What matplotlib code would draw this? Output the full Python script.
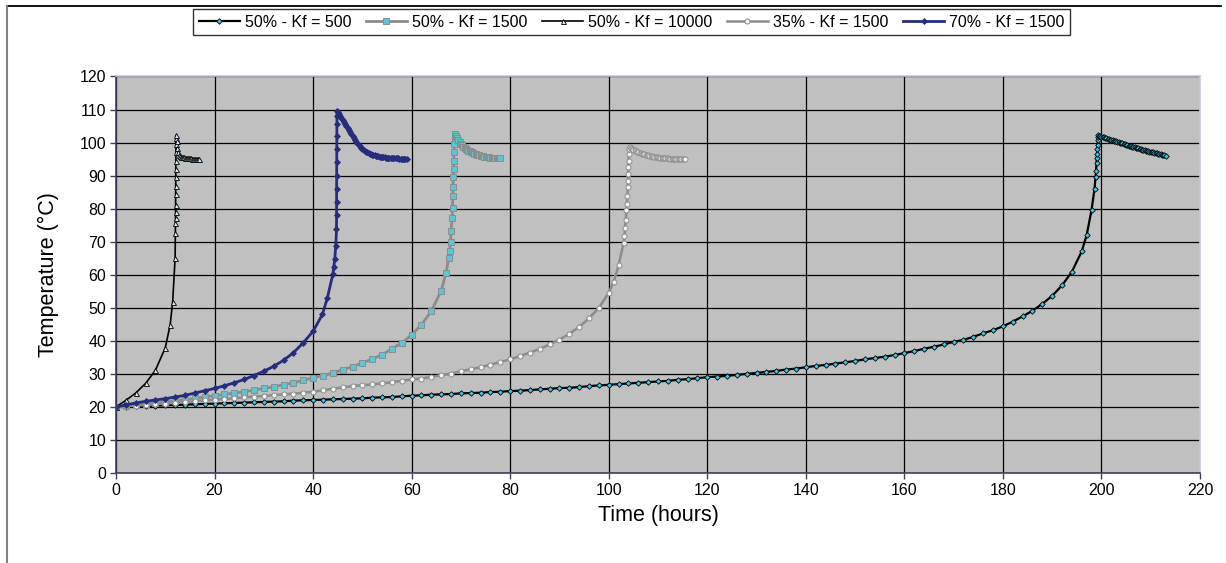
import numpy as np
import matplotlib
matplotlib.use('Agg')
from matplotlib import pyplot as plt
from matplotlib.lines import Line2D

plt.rcParams['font.family'] = ['Liberation Sans', 'DejaVu Sans']

# 50% - Kf = 500 : 2 h steps up to 194 h, then the ignition spike, then the cool-down at 0.25 h steps
t_500 = np.r_[np.arange(0, 196, 2),
              [196, 197, 198, 198.6, 198.8, 198.9, 199.0, 199.05, 199.1, 199.15, 199.2, 199.25, 199.3, 199.4],
              np.arange(199.5, 213.01, 0.25)]
T_500 = [20.0, 20.1, 20.2, 20.3, 20.4, 20.5, 20.6, 20.7, 20.8, 20.9,
         21.0, 21.1, 21.2, 21.3, 21.4, 21.5, 21.6, 21.7, 21.9, 22.0,
         22.1, 22.2, 22.3, 22.4, 22.5, 22.6, 22.8, 22.9, 23.0, 23.2,
         23.4, 23.5, 23.7, 23.8, 23.9, 24.1, 24.2, 24.3, 24.5, 24.6,
         24.8, 24.9, 25.1, 25.3, 25.5, 25.7, 25.8, 26.0, 26.3, 26.5,
         26.7, 26.9, 27.1, 27.3, 27.5, 27.7, 27.9, 28.2, 28.4, 28.7,
         29.0, 29.2, 29.4, 29.7, 30.0, 30.3, 30.6, 30.9, 31.3, 31.6,
         32.0, 32.4, 32.7, 33.1, 33.5, 33.9, 34.4, 34.8, 35.2, 35.7,
         36.3, 36.9, 37.6, 38.2, 38.9, 39.7, 40.3, 41.2, 42.3, 43.2,
         44.4, 45.8, 47.4, 49.1, 51.2, 53.6, 56.8, 60.9,
         67.1, 72.0, 79.7, 86.1, 89.5, 91.4, 93.8, 95.2, 96.6, 98.0, 99.4, 100.8, 101.8, 102.2,
         102.1, 102.0,
         101.8, 101.7, 101.6, 101.4, 101.3, 101.2, 101.1, 100.9, 100.8, 100.7, 100.6, 100.5,
         100.4, 100.3, 100.1, 100.0, 99.9, 99.8, 99.6, 99.5, 99.4, 99.3, 99.1, 99.0,
         98.9, 98.8, 98.7, 98.6, 98.5, 98.4, 98.3, 98.2, 98.0, 97.9, 97.8, 97.7,
         97.6, 97.5, 97.4, 97.3, 97.2, 97.1, 97.0, 96.9, 96.8, 96.7, 96.6, 96.5,
         96.4, 96.3, 96.2, 96.1, 96.0]

# 50% - Kf = 1500
t_1500 = np.r_[np.arange(0, 68, 2),
               [67.0, 67.5, 67.7, 67.9, 68.0, 68.2, 68.3, 68.35, 68.4, 68.45, 68.5, 68.55, 68.6, 68.65, 68.7, 68.8],
               np.arange(69.0, 78.01, 0.25)]
T_1500 = [20.0, 20.3, 20.6, 20.9, 21.2, 21.5, 21.9, 22.2, 22.6, 23.0,
          23.4, 23.8, 24.2, 24.6, 25.1, 25.6, 26.1, 26.7, 27.3, 28.0,
          28.8, 29.5, 30.3, 31.2, 32.2, 33.3, 34.5, 35.8, 37.6, 39.4,
          41.8, 44.9, 49.0, 55.2,
          60.6, 65.0, 67.3, 70.0, 73.1, 77.3, 80.3, 83.7, 86.5, 89.6, 92.0, 94.5, 97.0, 99.5, 101.5, 102.5,
          102.0, 101.4, 100.7, 100.1, 99.6, 99.2, 98.8, 98.5, 98.2, 97.9, 97.6, 97.4,
          97.2, 97.0, 96.8, 96.6, 96.5, 96.3, 96.2, 96.1, 96.0, 95.9, 95.8, 95.7,
          95.6, 95.6, 95.5, 95.5, 95.4, 95.4, 95.4, 95.3, 95.3, 95.3, 95.2, 95.2,
          95.2]

# 50% - Kf = 10000
t_10000 = [0, 2, 4, 6, 8, 10, 11, 11.5, 12.0, 12.05, 12.07, 12.08, 12.09, 12.1, 12.11, 12.12, 12.13,
           12.14, 12.15, 12.16, 12.17, 12.18, 12.2,
           12.3, 12.45, 12.6, 12.8, 13.0, 13.2, 13.4, 13.6, 13.8, 14.0, 14.2, 14.4, 14.6, 14.8, 15.0,
           15.2, 15.4, 15.6, 15.8, 16.0, 16.2, 16.4, 16.6, 16.9]
T_10000 = [20.0, 22.0, 24.2, 27.1, 31.1, 37.9, 44.9, 51.8, 65.1, 72.7, 75.7, 77.2, 79.0, 81.2, 84.3, 87.0, 89.5,
           92.0, 94.5, 97.0, 99.5, 101.5, 102.3,
           100.5, 98.5, 97.2, 96.3, 95.9, 95.7, 95.6, 95.5, 95.5, 95.4, 95.4, 95.3, 95.3, 95.2, 95.2,
           95.2, 95.1, 95.1, 95.1, 95.0, 95.0, 95.0, 94.9, 94.9]

# 35% - Kf = 1500
t_35 = np.r_[np.arange(0, 102, 2),
             [101, 102, 103, 103.2, 103.3, 103.45, 103.6, 103.7, 103.8, 103.85, 103.9, 103.95, 104.0, 104.05,
              104.1, 104.15, 104.25],
             np.arange(104.5, 115.51, 0.25)]
T_35 = [20.0, 20.2, 20.4, 20.6, 20.8, 21.0, 21.2, 21.5, 21.7, 22.0,
        22.2, 22.4, 22.6, 22.9, 23.1, 23.3, 23.6, 23.8, 24.0, 24.3,
        24.6, 25.0, 25.5, 25.9, 26.3, 26.6, 26.8, 27.1, 27.5, 27.9,
        28.3, 28.6, 29.1, 29.6, 30.1, 30.8, 31.4, 32.0, 32.8, 33.6,
        34.4, 35.4, 36.4, 37.6, 38.9, 40.4, 42.1, 44.2, 46.8, 50.0,
        54.5,
        57.9, 62.8, 69.6, 71.6, 74.1, 76.5, 79.7, 81.5, 83.9, 86.5, 88.5, 90.5, 92.5, 94.5,
        96.5, 98.0, 98.8,
        98.5, 98.2,
        97.9, 97.7, 97.5, 97.3, 97.1, 96.9, 96.8, 96.6, 96.5, 96.4, 96.3, 96.2,
        96.1, 96.0, 95.9, 95.8, 95.7, 95.7, 95.6, 95.5, 95.5, 95.4, 95.4, 95.3,
        95.3, 95.3, 95.2, 95.2, 95.2, 95.1, 95.1, 95.1, 95.0, 95.0, 95.0, 95.0,
        95.0, 94.9, 94.9, 94.9, 94.9, 94.9, 94.9]

# 70% - Kf = 1500
t_70 = np.r_[np.arange(0, 42, 2),
             [41.9, 42.9, 44.0, 44.2, 44.4, 44.6, 44.75, 44.76, 44.77, 44.78, 44.79, 44.8, 44.81, 44.82,
              44.83, 44.84, 44.85],
             np.arange(45.0, 59.01, 0.25)]
T_70 = [20.0, 20.6, 21.2, 21.7, 22.1, 22.5, 23.0, 23.5, 24.2, 24.9,
        25.6, 26.4, 27.3, 28.3, 29.5, 30.8, 32.3, 34.1, 36.4, 39.4,
        42.9,
        48.0, 53.0, 60.1, 62.4, 64.9, 68.7, 73.7, 78.0, 82.0, 86.0, 90.0, 94.0, 98.0, 102.0,
        105.5, 108.0, 109.6,
        109.2, 108.6, 108.0, 107.4, 106.8, 106.2, 105.6, 105.0, 104.4, 103.8, 103.2, 102.6,
        102.0, 101.4, 100.8, 100.3, 99.8, 99.3, 98.9, 98.5, 98.1, 97.8, 97.5, 97.2,
        97.0, 96.8, 96.6, 96.5, 96.3, 96.2, 96.1, 96.0, 95.9, 95.8, 95.7, 95.7,
        95.6, 95.5, 95.5, 95.4, 95.4, 95.4, 95.3, 95.3, 95.3, 95.2, 95.2, 95.2,
        95.2, 95.2, 95.1, 95.1, 95.1, 95.1, 95.1, 95.1, 95.1]

labels = ['50% - Kf = 500', '50% - Kf = 1500', '50% - Kf = 10000', '35% - Kf = 1500', '70% - Kf = 1500']

fig = plt.figure(figsize=(12.26, 5.63), dpi=100)
ax = fig.add_axes([116 / 1226, 90 / 563, 1084 / 1226, 396.5 / 563])
ax.set_facecolor('#C0C0C0')

ax.plot(t_500, T_500, color='black', lw=1.6, marker='D', ms=2.8, mfc='#3CC8E8', mec='black', mew=0.6,
        label=labels[0])
ax.plot(t_1500, T_1500, color='#8C8C8C', lw=2, marker='s', ms=3.8, mfc='#5CC6D6', mec='#8C8C8C', mew=0.7,
        label=labels[1])
ax.plot(t_10000, T_10000, color='black', lw=1.2, marker='^', ms=3.6, mfc='#D8ECF8', mec='black', mew=0.6,
        label=labels[2])
ax.plot(t_35, T_35, color='#8C8C8C', lw=1.8, marker='o', ms=3.6, mfc='#EEF6FA', mec='#8C8C8C', mew=0.7,
        label=labels[3])
ax.plot(t_70, T_70, color='#262C7E', lw=2, marker='D', ms=3, mfc='#262C7E', mec='#262C7E', mew=0.6,
        label=labels[4])

ax.set_xlim(0, 220)
ax.set_ylim(0, 120)
ax.set_xticks(np.arange(0, 221, 20))
ax.set_yticks(np.arange(0, 121, 10))
ax.grid(True, color='black', lw=0.9)
ax.set_axisbelow(True)
ax.tick_params(direction='out', length=4, width=1, color='#404060', labelsize=11.5, pad=3)
for s in ['left', 'bottom']:
    ax.spines[s].set_color('#404060')
    ax.spines[s].set_linewidth(1.2)
for s in ['top', 'right']:
    ax.spines[s].set_color('#C8C8E6')
    ax.spines[s].set_linewidth(1.2)

ax.set_xlabel('Time (hours)', fontsize=15.5, va='center')
ax.set_ylabel('Temperature (°C)', fontsize=15.5, va='center')
ax.xaxis.set_label_coords(0.5, -0.106)
ax.yaxis.set_label_coords(-0.0627, 0.5)

leg = fig.legend(loc='upper center', bbox_to_anchor=(631.5 / 1226, 1 - 9 / 563), ncol=5, fontsize=11.5,
                 frameon=True, fancybox=False, shadow=False, numpoints=1, handlelength=2.6,
                 handletextpad=0.3, columnspacing=0.9, borderpad=0.35, borderaxespad=0)
leg.get_frame().set_edgecolor('black')
leg.get_frame().set_linewidth(1.0)

# chart border (top and left edges)
fig.add_artist(Line2D([7 / 1226, 1221 / 1226], [1 - 6 / 563, 1 - 6 / 563], color='black', lw=1.3))
fig.add_artist(Line2D([7 / 1226, 7 / 1226], [0, 1 - 6 / 563], color='#808080', lw=1.5))

fig.savefig('out.png', dpi=100)
